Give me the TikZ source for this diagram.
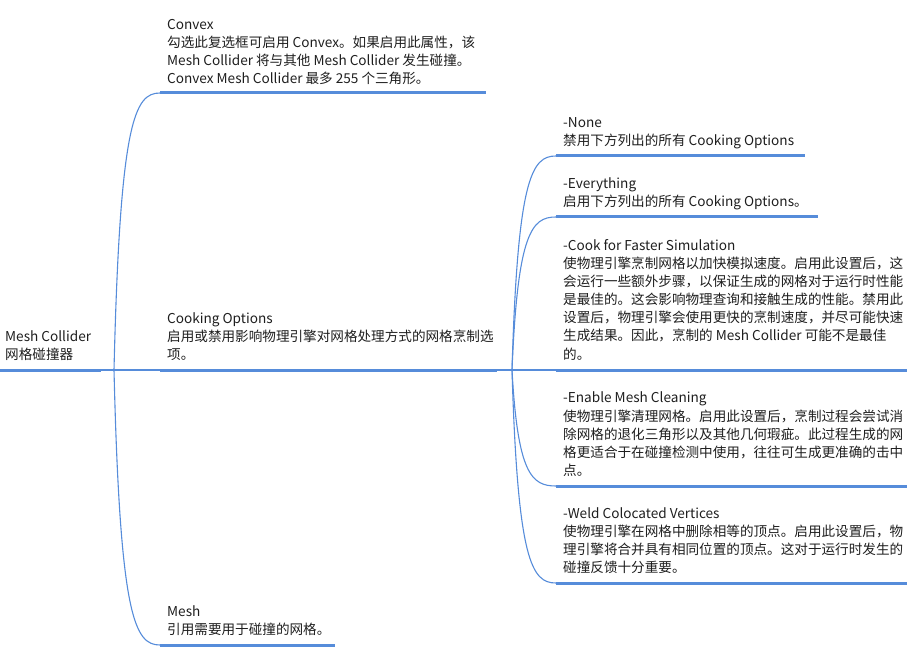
\documentclass[tikz,border=0pt]{standalone}
\usepackage{fontspec}
\setmainfont{Noto Sans CJK SC}
\definecolor{lineblue}{RGB}{86,140,218}
\definecolor{textcol}{RGB}{30,30,30}
\tikzset{
  uline/.style={draw=lineblue, line width=3pt},
  conn/.style={draw=lineblue, line width=1.1pt},
  txt/.style={anchor=base west, inner sep=0pt, align=left, text=textcol,
    font=\fontsize{13.6}{18.15}\selectfont},
}
\begin{document}
\begin{tikzpicture}[x=1pt,y=-1pt]
\useasboundingbox (0,0) rectangle (921,655);
% coordinates
\coordinate (rootS) at (0,370);
\coordinate (rootE) at (101,370);
\coordinate (jL) at (114,370);
\coordinate (convS) at (160,93);   \coordinate (convE) at (486,93);
\coordinate (coopS) at (160,370);  \coordinate (coopE) at (497,370);
\coordinate (meshS) at (160,645);  \coordinate (meshE) at (335,645);
\coordinate (jR) at (512,370);
\coordinate (noneS) at (556,156);  \coordinate (noneE) at (805,156);
\coordinate (evS) at (556,217);    \coordinate (evE) at (818,217);
\coordinate (cookS) at (556,370);  \coordinate (cookE) at (907,370);
\coordinate (enS) at (556,486);    \coordinate (enE) at (907,486);
\coordinate (weS) at (556,583);    \coordinate (weE) at (907,583);
% connectors
\draw[conn] (rootE) -- (coopS);
\draw[conn] (jL) .. controls (120,120.7) and (134.7,93) .. (convS);
\draw[conn] (jL) .. controls (120,617.5) and (134.7,645) .. (meshS);
\draw[conn] (coopE) -- (cookS);
\draw[conn] (jR) .. controls (517.7,177.3) and (531.8,156) .. (noneS);
\draw[conn] (jR) .. controls (517.7,232.2) and (531.8,217) .. (evS);
\draw[conn] (jR) .. controls (517.7,474.3) and (531.8,486) .. (enS);
\draw[conn] (jR) .. controls (517.7,561.6) and (531.8,583) .. (weS);
% underlines
\draw[uline] (rootS) -- (rootE);
\draw[uline] (convS) -- (convE);
\draw[uline] (coopS) -- (coopE);
\draw[uline] (meshS) -- (meshE);
\draw[uline] (noneS) -- (noneE);
\draw[uline] (evS) -- (evE);
\draw[uline] (cookS) -- (cookE);
\draw[uline] (enS) -- (enE);
\draw[uline] (weS) -- (weE);
% texts (base anchor = baseline of last line)
\node[txt] (root) at (5,359.5) {Mesh Collider\\网格碰撞器};
\node[txt] (convex) at (167,83.5) {Convex\\勾选此复选框可启用 Convex。如果启用此属性，该\\Mesh Collider 将与其他 Mesh Collider 发生碰撞。\\Convex Mesh Collider 最多 255 个三角形。};
\node[txt] (cookopt) at (167,359.5) {Cooking Options\\启用或禁用影响物理引擎对网格处理方式的网格烹制选\\项。};
\node[txt] (mesh) at (167,634.5) {Mesh\\引用需要用于碰撞的网格。};
\node[txt] (none) at (563,145.5) {-None\\禁用下方列出的所有 Cooking Options};
\node[txt] (every) at (563,206.5) {-Everything\\启用下方列出的所有 Cooking Options。};
\node[txt] (cook) at (563,359) {-Cook for Faster Simulation\\使物理引擎烹制网格以加快模拟速度。启用此设置后，这\\会运行一些额外步骤，以保证生成的网格对于运行时性能\\是最佳的。这会影响物理查询和接触生成的性能。禁用此\\设置后，物理引擎会使用更快的烹制速度，并尽可能快速\\生成结果。因此，烹制的 Mesh Collider 可能不是最佳\\的。};
\node[txt] (enable) at (563,475.5) {-Enable Mesh Cleaning\\使物理引擎清理网格。启用此设置后，烹制过程会尝试消\\除网格的退化三角形以及其他几何瑕疵。此过程生成的网\\格更适合于在碰撞检测中使用，往往可生成更准确的击中\\点。};
\node[txt] (weld) at (563,572.5) {-Weld Colocated Vertices\\使物理引擎在网格中删除相等的顶点。启用此设置后，物\\理引擎将合并具有相同位置的顶点。这对于运行时发生的\\碰撞反馈十分重要。};
\end{tikzpicture}
\end{document}
